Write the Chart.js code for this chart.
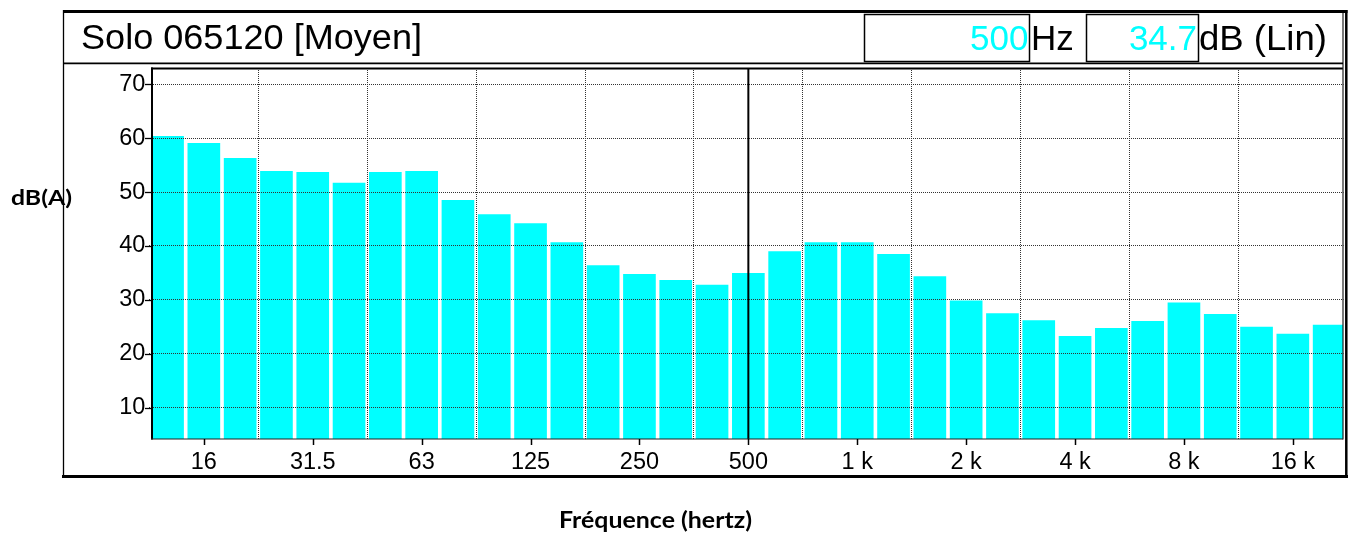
<!DOCTYPE html>
<html><head><meta charset="utf-8">
<script src="https://cdn.jsdelivr.net/npm/chart.js@4/dist/chart.umd.min.js"></script>
<style>html,body{margin:0;padding:0;background:#fff;overflow:hidden}#wrap{position:relative;width:1351px;height:534px}</style>
</head><body><div id="wrap"><canvas id="c"></canvas></div>
<script>
// ---- data ----
const chartTitle = 'Solo 065120 [Moyen]';
const bandLabels = ['12.5','16','20','25','31.5','40','50','63','80','100','125','160','200','250','315','400','500','630','800','1 k','1.25 k','1.6 k','2 k','2.5 k','3.15 k','4 k','5 k','6.3 k','8 k','10 k','12.5 k','16 k','20 k'];
const levels = [60.4,59.1,56.3,53.9,53.7,51.7,53.7,53.9,48.5,45.9,44.2,40.7,36.4,34.8,33.7,32.8,35.0,39.0,40.7,40.7,38.5,34.4,29.9,27.5,26.2,23.3,24.8,26.1,29.5,27.4,25.0,23.7,25.4];
const xTickLabels = ['16','31.5','63','125','250','500','1 k','2 k','4 k','8 k','16 k'];
const yTickValues = [10,20,30,40,50,60,70];
const cursorBand = '500';
const cursorUnit = 'Hz';
const cursorReadout = '34.7';
const readoutUnit = 'dB (Lin)';
const yAxisTitle = 'dB(A)';
const xAxisTitle = 'Fréquence (hertz)';

const SANS = '"Liberation Sans", Arial, sans-serif';
const BOLD = '"Lato", "Open Sans", sans-serif';
const CYAN = '#00FFFF';

function drawText(ctx, text, x, y, font, color, align, targetW) {
  ctx.save();
  ctx.font = font; ctx.fillStyle = color; ctx.textBaseline = 'alphabetic'; ctx.textAlign = 'left';
  const w = ctx.measureText(text).width;
  const s = targetW ? targetW / w : 1;
  const x0 = align === 'right' ? x - w * s : (align === 'center' ? x - w * s / 2 : x);
  ctx.translate(x0, y); ctx.scale(s, 1);
  ctx.fillText(text, 0, 0);
  ctx.restore();
}
function line(ctx, x1, y1, x2, y2, w, c) {
  ctx.save(); ctx.strokeStyle = c || '#000'; ctx.lineWidth = w; ctx.beginPath();
  ctx.moveTo(x1, y1); ctx.lineTo(x2, y2); ctx.stroke(); ctx.restore();
}

const framePlugin = {
  id: 'frame',
  beforeDraw(chart) {
    const ctx = chart.ctx;
    ctx.save(); ctx.fillStyle = '#fff'; ctx.fillRect(0, 0, chart.width, chart.height); ctx.restore();
  },
  afterDraw(chart) {
    const ctx = chart.ctx;
    const a = chart.chartArea;
    const xs = chart.scales.x, ys = chart.scales.y;
    const L = 152, R = 1343;
    // cover overflow at right
    ctx.save(); ctx.fillStyle = '#fff'; ctx.fillRect(R + 0.5, 64, 1351 - R, 411); ctx.restore();
    // cursor line
    const cx = xs.getPixelForValue(bandLabels.indexOf(cursorBand));
    line(ctx, cx, a.top, cx, a.bottom, 2, '#000');
    // plot frame
    line(ctx, L - 1, 68.5, R, 68.5, 2);
    line(ctx, L, 67.5, L, 439.5, 2);
    line(ctx, L - 1, 439, R, 439, 1.2, '#222');
    line(ctx, R, 13, R, 439.5, 1.2, '#222');
    // y ticks
    yTickValues.forEach(v => { const y = Math.round(ys.getPixelForValue(v)) + 0.5; line(ctx, 145, y, L, y, 1.3); });
    // x ticks
    xTickLabels.forEach(l => { const x = Math.round(xs.getPixelForValue(bandLabels.indexOf(l))) + 0.5; line(ctx, x, 439, x, 445, 1.5); });
    // outer frame
    line(ctx, 63, 11.5, 1347.5, 11.5, 3);
    line(ctx, 63.5, 10, 63.5, 478, 1.3);
    line(ctx, 62, 476.5, 1348, 476.5, 3);
    line(ctx, 1346.3, 10, 1346.3, 478, 2.5);
    line(ctx, 63, 63.3, R, 63.3, 1.8);
    // header boxes
    ctx.save(); ctx.strokeStyle = '#000'; ctx.lineWidth = 1.5;
    ctx.strokeRect(864.5, 14.5, 165, 47);
    ctx.strokeRect(1086.5, 14.5, 112, 47);
    ctx.restore();
    // header texts
    drawText(ctx, chartTitle, 81, 49, '35px ' + SANS, '#000', 'left', 341);
    drawText(ctx, cursorBand, 1028.5, 50, '35px ' + SANS, CYAN, 'right');
    drawText(ctx, cursorUnit, 1031, 50, '35px ' + SANS, '#000', 'left');
    drawText(ctx, cursorReadout, 1197, 50, '35px ' + SANS, CYAN, 'right');
    drawText(ctx, readoutUnit, 1199, 50, '35px ' + SANS, '#000', 'left', 128);
    // axis titles
    drawText(ctx, yAxisTitle, 11, 205, 'bold 20px ' + BOLD, '#000', 'left', 61);
    drawText(ctx, xAxisTitle, 559, 528, 'bold 22px ' + BOLD, '#000', 'left', 193);
  }
};

new Chart(document.getElementById('c'), {
  type: 'bar',
  data: {
    labels: bandLabels,
    datasets: [{
      data: levels,
      backgroundColor: CYAN,
      borderWidth: 0,
      barPercentage: 0.9,
      categoryPercentage: 1.0,
      clip: { left: 0, top: 0, right: -4.3, bottom: 0 }
    }]
  },
  options: {
    responsive: true, maintainAspectRatio: false, animation: false, devicePixelRatio: 1,
    layout: { padding: { left: 0, right: 3.7, top: 68, bottom: 0 } },
    plugins: { legend: { display: false }, tooltip: { enabled: false }, title: { display: false } },
    scales: {
      x: {
        type: 'category', offset: true,
        afterFit(s) { s.height = 95; },
        grid: {
          display: true, offset: true, drawTicks: false, drawOnChartArea: true, z: 1, lineWidth: 1,
          color: (c) => (c.index % 3 === 0 && c.index > 0 && c.index < bandLabels.length) ? '#333' : 'rgba(0,0,0,0)'
        },
        border: { display: false, dash: [1, 1] },
        ticks: {
          autoSkip: false, maxRotation: 0, minRotation: 0, padding: 9, color: '#000',
          font: { family: SANS, size: 23.5 },
          callback(v, i) { const l = bandLabels[i]; return xTickLabels.includes(l) ? l : ''; }
        }
      },
      y: {
        min: 4.2, max: 73,
        afterFit(s) { s.width = 149.4; },
        afterBuildTicks(s) { s.ticks = yTickValues.map(v => ({ value: v })); },
        grid: { drawTicks: false, z: 1, color: '#333', lineWidth: 1 },
        border: { display: false, dash: [1, 1] },
        ticks: { padding: 4, color: '#000', font: { family: SANS, size: 23.5 } }
      }
    }
  },
  plugins: [framePlugin]
});
</script>
</body></html>
